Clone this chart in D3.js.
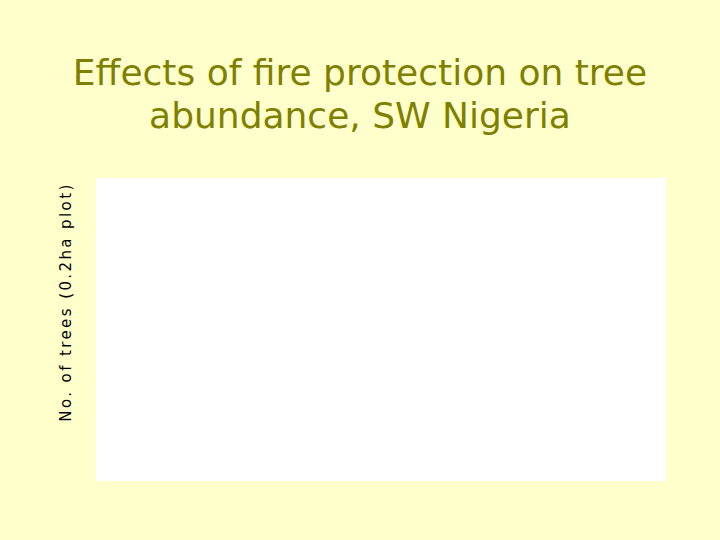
<!DOCTYPE html>
<html>
<head>
<meta charset="utf-8">
<script src="https://cdn.jsdelivr.net/npm/d3@7"></script>
<style>
  html, body { margin: 0; padding: 0; background: #ffffcc; }
  svg { display: block; }
</style>
</head>
<body>
<svg id="chart" width="720" height="540"></svg>
<script>
// no series visible in the plot area of the reference
const categories = [];
const treeCounts = [];
const titleLines = ["Effects of fire protection on tree", "abundance, SW Nigeria"];
const yLabel = "No. of trees (0.2ha plot)";

const svg = d3.select("#chart");
const margin = { top: 178, right: 54, bottom: 59, left: 96 };
const width = +svg.attr("width") - margin.left - margin.right;
const height = +svg.attr("height") - margin.top - margin.bottom;

svg.append("rect")
  .attr("width", 720).attr("height", 540)
  .style("fill", "#ffffcc");

// title
svg.append("g").selectAll("text")
  .data(titleLines).enter().append("text")
  .attr("x", 360)
  .attr("y", (d, i) => 85 + i * 43)
  .attr("text-anchor", "middle")
  .style("font-family", "'Comic Sans MS', 'DejaVu Sans', sans-serif")
  .style("font-size", "36px")
  .style("fill", "#7f7f00")
  .text(d => d);

const g = svg.append("g")
  .attr("transform", `translate(${margin.left},${margin.top})`);

// plot area
g.append("rect")
  .attr("width", width).attr("height", height)
  .style("fill", "#ffffff");

const x = d3.scaleBand().domain(categories).range([0, width]).padding(0.3);
const y = d3.scaleLinear()
  .domain([0, d3.max(treeCounts) || 1])
  .range([height, 0]);

g.selectAll(".bar")
  .data(treeCounts).enter().append("rect")
  .attr("class", "bar")
  .attr("x", (d, i) => x(categories[i]))
  .attr("y", d => y(d))
  .attr("width", x.bandwidth())
  .attr("height", d => height - y(d))
  .style("fill", "#808000");

// y label
svg.append("text")
  .attr("transform", "translate(71,302) rotate(-90)")
  .attr("text-anchor", "middle")
  .style("font-family", "'Comic Sans MS', 'DejaVu Sans', sans-serif")
  .style("font-size", "15px")
  .style("letter-spacing", "2.4px")
  .style("fill", "#000")
  .text(yLabel);
</script>
</body>
</html>
